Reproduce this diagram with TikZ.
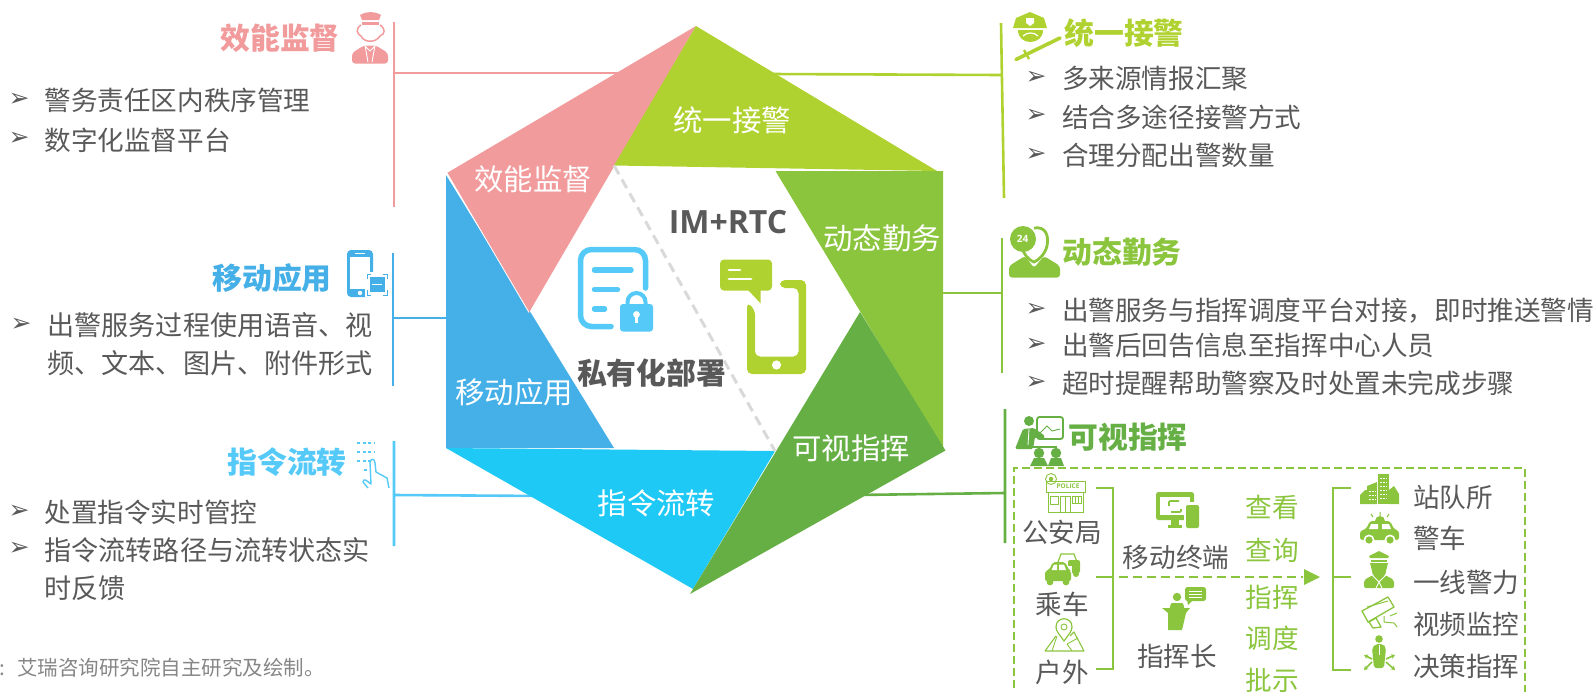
\documentclass[tikz,border=0pt]{standalone}
\usepackage{fontspec}
\usetikzlibrary{arrows.meta}
\setmainfont{Noto Sans CJK SC}
\newfontfamily\bulletfont{DejaVu Sans}
\newfontfamily\latinbold{Open Sans}
\definecolor{cpink}{HTML}{F29B9C}
\definecolor{cblue}{HTML}{45AFE7}
\definecolor{ccyan}{HTML}{1FC9F5}
\definecolor{clcyan}{HTML}{55C9F7}
\definecolor{cdark}{HTML}{66AF45}
\definecolor{cgreen}{HTML}{8BC53E}
\definecolor{clime}{HTML}{B0D230}
\definecolor{cgrey}{HTML}{595959}
\definecolor{cdash}{HTML}{D9D9D9}
\tikzset{
  every node/.style={inner sep=0pt,outer sep=0pt},
  bodytxt/.style={font=\fontsize{26.6}{30}\selectfont,text=cgrey,text height=23.4pt,text depth=3.2pt,anchor=west},
  bodywide/.style={bodytxt,font=\fontsize{27.1}{30}\selectfont},
  ctrtxt/.style={font=\fontsize{26.6}{30}\selectfont,text=cgrey,text height=23.4pt,text depth=3.2pt},
  greentxt/.style={ctrtxt,text=cgreen},
  hexlabel/.style={font=\fontsize{29.4}{32}\selectfont,text=white,text height=25.9pt,text depth=3.5pt},
  headtxt/.style={font=\bfseries\fontsize{29.8}{32}\selectfont,text height=26.2pt,text depth=3.6pt},
  ctrbold/.style={headtxt,text=cgrey},
  bullet/.style={font=\bulletfont\fontsize{25}{26}\selectfont,text=cgrey},
  srctxt/.style={font=\fontsize{20.5}{24}\selectfont,text=gray!95,text height=18pt,text depth=2.5pt,anchor=west},
  conn/.style={line width=2.6pt},
  brack/.style={line width=1.8pt,cgreen},
  thin ic/.style={line width=1.2pt,cgreen},
  fan/.style={cgreen,line width=1.6pt,-{Stealth[length=4pt,width=5pt]}},
}
\begin{document}
\begin{tikzpicture}[x=1pt,y=-1pt]
\clip (0,0) rectangle (1595,691);
\useasboundingbox (0,0) rectangle (1595,691);
% named points
\coordinate (vT) at (696,26); \coordinate (vL) at (447,173); \coordinate (vTR) at (937,171);
\coordinate (vR) at (943,171); \coordinate (vBR) at (945.5,450.5); \coordinate (vB) at (690,594);
\coordinate (vBL) at (446,448); \coordinate (vLb) at (446,175);
\coordinate (vGb) at (943,449);
\coordinate (iTL) at (614,165.5); \coordinate (iL) at (529,312.5); \coordinate (iBL) at (614,448);
\coordinate (iBR) at (775,451); \coordinate (iR) at (860,312); \coordinate (iTR) at (775.5,171);
\coordinate (iB) at (693,589);
% connectors
\coordinate (pa) at (394,22); \coordinate (pb) at (394,207); \coordinate (pj) at (394,73); \coordinate (ph) at (620,73);
\coordinate (ba) at (393,253); \coordinate (bb) at (393,386); \coordinate (bj) at (393,318); \coordinate (bh) at (447,318);
\coordinate (ca) at (394,441); \coordinate (cb) at (394,546); \coordinate (cj) at (394,495); \coordinate (ch) at (545,496);
\coordinate (la) at (1001,23); \coordinate (lb) at (1004,198); \coordinate (lj) at (1002,75); \coordinate (lh) at (770,74);
\coordinate (ga) at (1002,238); \coordinate (gb) at (1002,373); \coordinate (gj) at (1002,293); \coordinate (gh) at (938,293);
\coordinate (da) at (1005,409); \coordinate (db) at (1005,543); \coordinate (dj) at (1005,493); \coordinate (dh) at (855,495);
\draw[conn,cpink] (pa)--(pb) (pj)--(ph);
\draw[conn,cblue] (ba)--(bb) (bj)--(bh);
\draw[conn,clcyan] (ca)--(cb) (cj)--(ch);
\draw[conn,clime] (la)--(lb) (lj)--(lh);
\draw[conn,cgreen] (ga)--(gb) (gj)--(gh);
\draw[conn,cdark] (da)--(db) (dj)--(dh);
% hexagon
\fill[cblue] (vLb)--(vBL)--(iBL)--cycle;
\fill[cpink] (vL)--(vT)--(iL)--cycle;
\draw[white,line width=.8pt] (vL)--(iL);
\fill[clime] (vT)--(vTR)--(iTL)--cycle;
\fill[cgreen] (iTR)--(vR)--(vGb)--cycle;
\fill[ccyan] (vBL)--(iBR)--(iB)--cycle;
\fill[cdark] (iR)--(vBR)--(vB)--cycle;
\draw[cdash,line width=3pt,dash pattern=on 10pt off 6pt] (iTL)--(iBR);
% hexagon labels
\node[hexlabel] (hA) at (732,120) {统一接警};
\node[hexlabel] (hB) at (533,179) {效能监督};
\node[hexlabel] (hC) at (882,238) {动态勤务};
\node[hexlabel] (hD) at (514,392) {移动应用};
\node[hexlabel] (hE) at (851,448) {可视指挥};
\node[hexlabel] (hF) at (656.5,503) {指令流转};
\node[font=\latinbold\bfseries\fontsize{32}{34}\selectfont,text=cgrey] (im) at (728,222) {IM+RTC};
\node[ctrbold] (pv) at (651.5,372.7) {私有化部署};
% document + lock icon
\draw[clcyan,line width=5.5pt,line cap=round,rounded corners=11pt] (645.5,288)--(645.5,249.5)--(580.5,249.5)--(580.5,326.5)--(611,326.5);
\draw[clcyan,line width=5.5pt,line cap=round] (594.5,270)--(631,270) (594.5,289.6)--(617.5,289.6) (594.5,309)--(604.5,309);
\draw[clcyan,line width=4pt] (627.5,306)--(627.5,302) arc[start angle=180,end angle=360,radius=9]--(645.5,306);
\fill[clcyan,rounded corners=3pt] (620,304) rectangle (653,331.5);
\fill[white] (636.5,314.5) circle[radius=3.4];
\draw[white,line width=2.4pt] (636.5,314.5)--(636.5,323);
% phone + bubble icon
\fill[clime,rounded corners=5pt] (747,302)--(747,374)--(806,374)--(806,280)--(780,280)--(780,288)--(798.5,288)--(798.5,356.5)--(755,356.5)--(755,310)--cycle;
\fill[white] (776.5,365) circle[radius=4.6];
\fill[clime,rounded corners=4pt] (720,259.5) rectangle (772,290.6);
\fill[clime] (748,290)--(760.6,303.4)--(760.6,290)--cycle;
\draw[white,line width=2.8pt,line cap=round] (729,270)--(740,270) (729,279)--(751,279);
% left headings
\node[headtxt,text=cpink] (t1) at (280,38) {效能监督};
\node[headtxt,text=cblue] (t2) at (272,278) {移动应用};
\node[headtxt,text=clcyan] (t3) at (287,462) {指令流转};
\node[headtxt,text=clime] (t4) at (1124,33) {统一接警};
\node[headtxt,text=cgreen] (t5) at (1122,252) {动态勤务};
\node[headtxt,text=cdark] (t6) at (1128,437) {可视指挥};
% left lists
\node[bullet] (b1) at (19,100) {➢};
\node[bodytxt] (l1) at (44.5,100) {警务责任区内秩序管理};
\node[bullet] (b2) at (19,139) {➢};
\node[bodytxt] (l2) at (44.5,140) {数字化监督平台};
\node[bullet] (b3) at (21,325) {➢};
\node[bodywide] (l3) at (47.5,325) {出警服务过程使用语音、视};
\node[bodywide] (l4) at (47.5,363) {频、文本、图片、附件形式};
\node[bullet] (b5) at (19,512) {➢};
\node[bodytxt] (l5) at (44.5,512) {处置指令实时管控};
\node[bullet] (b6) at (19,549) {➢};
\node[bodywide] (l6) at (44.5,550) {指令流转路径与流转状态实};
\node[bodywide] (l7) at (44.5,588) {时反馈};
\node[srctxt] (s0) at (-1,668) {:};
\node[srctxt] (s1) at (17,668) {艾瑞咨询研究院自主研究及绘制。};
% right lists
\node[bullet] (r1b) at (1036,78) {➢};
\node[bodytxt] (r1) at (1062,78) {多来源情报汇聚};
\node[bullet] (r2b) at (1036,116) {➢};
\node[bodytxt] (r2) at (1062,117) {结合多途径接警方式};
\node[bullet] (r3b) at (1036,155) {➢};
\node[bodytxt] (r3) at (1062,155) {合理分配出警数量};
\node[bullet] (r4b) at (1036,310) {➢};
\node[bodytxt] (r4) at (1062,310) {出警服务与指挥调度平台对接，即时推送警情};
\node[bullet] (r5b) at (1036,345) {➢};
\node[bodytxt] (r5) at (1062,345) {出警后回告信息至指挥中心人员};
\node[bullet] (r6b) at (1036,383) {➢};
\node[bodytxt] (r6) at (1062,383) {超时提醒帮助警察及时处置未完成步骤};
% dashed panel
\coordinate (pnA) at (1014,700); \coordinate (pnB) at (1014,468); \coordinate (pnC) at (1525,468); \coordinate (pnD) at (1525,700);
\draw[cgreen,line width=1.5pt,dash pattern=on 8pt off 4pt] (pnA)--(pnB)--(pnC)--(pnD);
\node[ctrtxt] (n1) at (1062,532) {公安局};
\node[ctrtxt] (n2) at (1062,604) {乘车};
\node[ctrtxt] (n3) at (1062,672) {户外};
\node[ctrtxt] (n4) at (1176,557) {移动终端};
\node[ctrtxt] (n5) at (1177,656) {指挥长};
\node[greentxt] (g1) at (1272,507) {查看};
\node[greentxt] (g2) at (1272,550) {查询};
\node[greentxt] (g3) at (1272,597) {指挥};
\node[greentxt] (g4) at (1272,638) {调度};
\node[greentxt] (g5) at (1272,680) {批示};
\node[ctrtxt,anchor=west] (e1) at (1413,497) {站队所};
\node[ctrtxt,anchor=west] (e2) at (1413,538) {警车};
\node[ctrtxt,anchor=west] (e3) at (1413,582) {一线警力};
\node[ctrtxt,anchor=west] (e4) at (1413,624) {视频监控};
\node[ctrtxt,anchor=west] (e5) at (1413,666) {决策指挥};
% brackets
\coordinate (ka) at (1096,488); \coordinate (kb) at (1113,488); \coordinate (kc) at (1113,669); \coordinate (kd) at (1096,669);
\coordinate (km) at (1096,577); \coordinate (kn) at (1113,577);
\draw[brack] (ka)--(kb)--(kc)--(kd) (km)--(kn);
\coordinate (qa) at (1351,488); \coordinate (qb) at (1333,488); \coordinate (qc) at (1333,670); \coordinate (qd) at (1351,670);
\coordinate (qm) at (1333,577); \coordinate (qn) at (1351,577);
\draw[brack] (qa)--(qb)--(qc)--(qd) (qm)--(qn);
\coordinate (fa) at (1119,577); \coordinate (fb) at (1303,577);
\draw[cgreen,line width=1.8pt,dash pattern=on 9pt off 5pt] (fa)--(fb);
\fill[cgreen] (1304,569)--(1320,577)--(1304,585)--cycle;
% --- heading icons ---
% pink officer
\fill[cpink] (360,15) .. controls (367,11) and (374,11) .. (381,15) -- (379,20) -- (362,20) -- cycle;
\fill[cpink] (362,21.5) rectangle (379,25);
\draw[cpink,line width=1.5pt] (361,25) .. controls (355,29) and (357,34) .. (361,36) .. controls (364,43) and (376,43) .. (380,36) .. controls (385,34) and (386,29) .. (380,25);
\fill[cpink,rounded corners=3pt] (352,63.5)--(352,53)--(364,45.5)--(376,45.5)--(388,53)--(388,63.5)--cycle;
\draw[white,line width=.9pt] (365,45.5)--(368,62) (375,45.5)--(372,62) (365,46)--(370,51)--(375,46);
% blue phone
\fill[cblue,rounded corners=4pt] (347,250) rectangle (373,297);
\fill[white] (350,257) rectangle (370,289);
\fill[white] (360,293) circle[radius=2.2];
\draw[white,line width=1pt] (355,253.5)--(365,253.5);
\fill[white] (365,272) rectangle (389,297);
\fill[cblue] (369.5,277) rectangle (384.5,292);
\draw[white,line width=1.6pt] (372,284.5)--(382,284.5);
\draw[cblue,line width=.7pt] (367,279)--(367,274.5)--(371,274.5) (383,274.5)--(387.5,274.5)--(387.5,279) (387.5,290)--(387.5,295)--(383,295) (371,295)--(367,295)--(367,290);
% hand
\draw[clcyan,line width=1.3pt,dash pattern=on 3pt off 2.6pt] (357,443)--(375,443) (357,452)--(375,452) (357,461)--(372,461) (364,470)--(368,470);
\draw[clcyan,line width=1.4pt,line join=round] (368,488) -- (363,482) .. controls (362,480) and (365,479) .. (367,481) -- (371,484) -- (370,463) .. controls (370,458) and (375,458) .. (375,463) -- (376,472) -- (387,478) -- (389,488);
% lime officer hat + baton
\fill[clime] (1030,12) -- (1044,18) -- (1047,28) -- (1013,28) -- (1016,18) -- cycle;
\fill[clime] (1018,30) -- (1043,30) .. controls (1043,38) and (1037,42) .. (1030,42) .. controls (1024,42) and (1018,38) .. (1018,30) -- cycle;
\fill[white] (1026,18) -- (1034,18) -- (1034,23) -- (1030,26) -- (1026,23) -- cycle;
\draw[white,line width=1.2pt] (1023,36) .. controls (1027,32) and (1034,32) .. (1038,36);
\draw[clime,line width=3.6pt,line cap=round] (1016,59.5)--(1060,38);
\draw[clime,line width=2.4pt] (1024,50)--(1029,59);
% 24 person
\draw[cgreen,line width=2.8pt] (1034,228) .. controls (1046,226) and (1049,236) .. (1047,246) .. controls (1045,254) and (1039,260) .. (1034,262) .. controls (1028,260) and (1024,254) .. (1022,248);
\fill[cgreen,rounded corners=3pt] (1009,277.5) -- (1009,266) -- (1025,256) -- (1034,268) -- (1044,256) -- (1060,266) -- (1060,277.5) -- cycle;
\fill[cgreen] (1023,239) circle[radius=13];
\node[font=\latinbold\bfseries\fontsize{10}{10}\selectfont,text=white] (i24) at (1022.5,239) {24};
% visual command
\fill[cdark] (1029,421) circle[radius=5];
\fill[cdark,rounded corners=1.5pt] (1015,449)--(1023,429)--(1034,428)--(1045,436)--(1043,440)--(1035,437)--(1033,449)--cycle;
\draw[white,line width=.8pt] (1029,429)--(1028,445);
\draw[cdark,line width=1.8pt,rounded corners=2.5pt] (1037,417) rectangle (1063,439);
\draw[cdark,line width=.9pt] (1040,433)--(1047,426)--(1052,431)--(1060,429);
\draw[cdark,line width=1.8pt] (1033,447)--(1057,447);
\fill[cdark] (1039,453) circle[radius=5.2] (1056,453) circle[radius=5.2];
\fill[cdark] (1030,466)--(1034,458)--(1044,458)--(1048,466)--cycle;
\fill[cdark] (1048,466)--(1051,458)--(1061,458)--(1064,466)--cycle;
% --- left column icons ---
% police station
\draw[thin ic,line width=.9pt] (1051,479) circle[radius=5.5];
\fill[cgreen] (1051,479) circle[radius=2.2];
\draw[thin ic,line width=1pt] (1046,481) rectangle (1085,492);
\draw[thin ic,line width=1pt] (1048,492) rectangle (1083,512);
\node[font=\latinbold\bfseries\fontsize{6.5}{7}\selectfont,text=cgreen] (ipol) at (1068,486.5) {POLICE};
\draw[thin ic,line width=.8pt] (1050,496) rectangle (1058,504) (1060,496) rectangle (1070,512) (1072,496) rectangle (1081,503);
\draw[thin ic,line width=.7pt] (1065,496)--(1065,512) (1075,496)--(1075,503) (1078,496)--(1078,503);
% cars
\draw[thin ic,line width=1.2pt] (1058,562)--(1061,554)--(1074,554)--(1077,562);
\fill[cgreen,rounded corners=2pt] (1068,560) rectangle (1080,573);
\fill[cgreen] (1076,574) circle[radius=3];
\fill[white] (1048,566) rectangle (1072,582);
\fill[cgreen,rounded corners=2pt] (1045,581)--(1045,571)--(1049,570)--(1053,562)--(1065,562)--(1069,570)--(1071,571)--(1071,581)--cycle;
\fill[white] (1054,564.5)--(1057,564.5)--(1057,570)--(1051.5,570)--cycle (1059,564.5)--(1064,564.5)--(1066,570)--(1059,570)--cycle;
\fill[cgreen] (1050,582) circle[radius=3.4] (1066,582) circle[radius=3.4];
% map pin
\draw[thin ic,line width=1.2pt] (1064,641) .. controls (1059,634) and (1056,631) .. (1056,627) .. controls (1056,616) and (1072,616) .. (1072,627) .. controls (1072,631) and (1069,634) .. (1064,641) -- cycle;
\draw[thin ic,line width=.9pt] (1064,627) circle[radius=3];
\draw[thin ic,line width=1.1pt,line join=round] (1056,636)--(1045,651)--(1084,651)--(1074,632)--(1070,636);
\draw[thin ic,line width=.9pt] (1057,636)--(1052,651) (1067,644)--(1078,638) (1067,644)--(1072,651);
% terminal
\fill[cgreen,rounded corners=2.5pt] (1156,492) rectangle (1194,520);
\fill[white] (1160,497) rectangle (1190,515);
\fill[cgreen] (1171,520) rectangle (1179,525);
\fill[cgreen] (1168,525) rectangle (1182,528);
\draw[cgreen,line width=1.6pt,rounded corners=1pt] (1169,506)--(1169,501)--(1179,501) (1181,509)--(1181,512)--(1171,512);
\fill[white] (1184,502) rectangle (1201,530);
\fill[cgreen,rounded corners=2pt] (1186,505) rectangle (1199,528);
% speaker
\fill[cgreen] (1177,597) circle[radius=4.2];
\fill[cgreen,rounded corners=1pt] (1169,611)--(1171,603)--(1183,603)--(1185,611)--cycle;
\fill[cgreen] (1162,608)--(1190,608)--(1186,613)--(1182,630)--(1168,630)--(1168,613)--cycle;
\fill[cgreen,rounded corners=2.5pt] (1185,587) rectangle (1206,601);
\fill[cgreen] (1187,600)--(1188,605)--(1193,600)--cycle;
\draw[white,line width=.7pt] (1189,591)--(1202,591) (1189,594)--(1202,594) (1189,597)--(1202,597);
% --- right column icons ---
% building
\fill[cgreen] (1360,504) -- (1360,495) -- (1365,490) -- (1367,490) -- (1367,486) -- (1377,482) -- (1377,504) -- cycle;
\fill[cgreen] (1378,474) rectangle (1389,504);
\fill[cgreen] (1389,504)--(1389,490)--(1394,486)--(1399,494)--(1399,504)--cycle;
\draw[white,line width=.9pt,dash pattern=on 2pt off 1pt] (1369,491)--(1376,491) (1369,495)--(1376,495) (1369,499)--(1376,499) (1380,478)--(1387,478) (1380,482)--(1387,482) (1380,486)--(1387,486) (1380,490)--(1387,490) (1380,494)--(1387,494) (1380,498)--(1387,498);
% police car
\draw[cgreen,line width=1pt] (1380,512)--(1380,516) (1371,514)--(1373,517) (1389,514)--(1387,517);
\fill[cgreen] (1375,521) arc[start angle=180,end angle=360,radius=5] -- cycle;
\fill[cgreen,rounded corners=2.5pt] (1360,540)--(1360,531)--(1366,529)--(1370,521)--(1390,521)--(1394,529)--(1399,531)--(1399,540)--cycle;
\fill[white] (1371,524)--(1378,524)--(1378,529)--(1369,529)--cycle (1382,524)--(1389,524)--(1391,529)--(1382,529)--cycle;
\fill[white] (1369,540) circle[radius=5.5] (1390,540) circle[radius=5.5];
\fill[cgreen] (1369,540) circle[radius=3.6] (1390,540) circle[radius=3.6];
% officer
\fill[cgreen] (1369,556)--(1379,551)--(1389,556)--(1388,558)--(1370,558)--cycle;
\fill[cgreen] (1371,560) rectangle (1387,562);
\fill[cgreen] (1370,563)--(1388,563)--(1386,571) arc[start angle=0,end angle=180,radius=7]--cycle;
\fill[cgreen,rounded corners=2pt] (1364,588)--(1364,580)--(1373,575)--(1379,578)--(1385,575)--(1394,580)--(1394,588)--cycle;
\draw[white,line width=.9pt] (1373,576)--(1379,582)--(1385,576) (1379,582)--(1376,588) (1379,582)--(1382,588);
% camera
\draw[thin ic,line width=1.3pt,line join=round] (1362,611)--(1388,597)--(1394,607)--(1368,622)--cycle (1369,622)--(1376,618)--(1381,627)--(1373,628)--cycle;
\draw[thin ic,line width=1pt] (1367,607)--(1388,601);
\draw[thin ic,line width=1pt] (1384,616)--(1384,622)--(1394,623)--(1397,627) (1390,616)--(1397,613);
% decision
\fill[cgreen] (1379,639) circle[radius=3.8];
\fill[cgreen,rounded corners=2pt] (1372,648)--(1376,644)--(1383,644)--(1386,648)--(1384,668)--(1374,668)--cycle;
\draw[white,line width=.7pt] (1379,645)--(1379,655);
\coordinate (fc) at (1372,659); \coordinate (fd) at (1372,662); \coordinate (fe) at (1386,659); \coordinate (ff) at (1386,662);
\coordinate (fg) at (1364,655); \coordinate (fh) at (1364,670); \coordinate (fi) at (1395,655); \coordinate (fj) at (1395,670);
\draw[fan] (fc)--(fg);
\draw[fan] (fd)--(fh);
\draw[fan] (fe)--(fi);
\draw[fan] (ff)--(fj);
\end{tikzpicture}
\end{document}
